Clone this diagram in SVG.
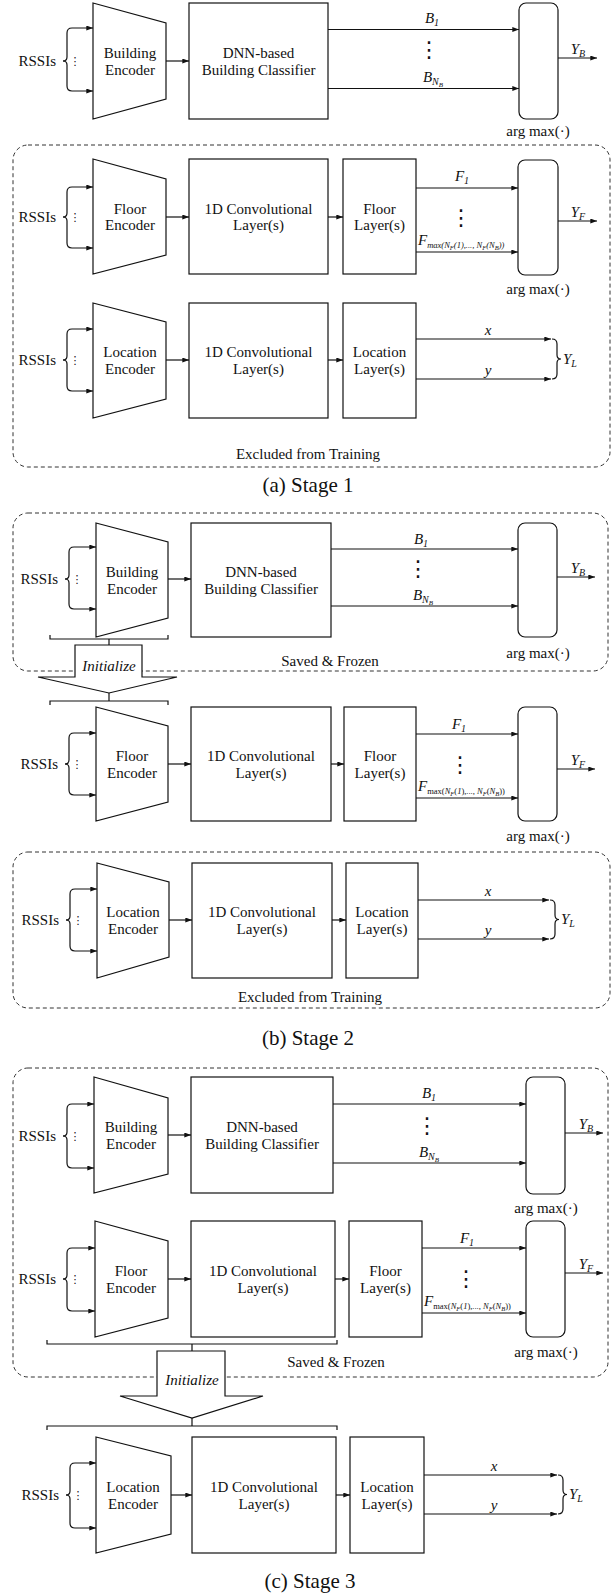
<svg xmlns="http://www.w3.org/2000/svg" width="616" height="1595" viewBox="0 0 616 1595">
<style>
.box{fill:#fff;stroke:#111;stroke-width:1.2}
.ln{fill:none;stroke:#111;stroke-width:1.2}
.dash{fill:none;stroke:#333;stroke-width:1;stroke-dasharray:4 3}
.blk{fill:#fff;stroke:#111;stroke-width:1.2}
text{font-family:"Liberation Serif","Times New Roman",serif;font-size:15px;fill:#111;text-anchor:middle}
.it{font-style:italic}
.st{text-anchor:start}
.en{text-anchor:end}
.cap{font-size:21px}
.vd{font-family:"DejaVu Sans",sans-serif;font-size:22px}
.sd{font-family:"DejaVu Sans",sans-serif;font-size:11px}
.lab{font-style:italic;font-size:15px}
</style>
<defs>
<marker id="ah" viewBox="0 0 8 6" refX="8" refY="3" markerWidth="7" markerHeight="5" orient="auto" markerUnits="userSpaceOnUse"><path d="M0,0 L8,3 L0,6 z" fill="#111"/></marker>
</defs>

<!-- ===== Stage 1 ===== -->
<g id="s1-frame"><rect class="dash" x="13" y="145" width="597" height="322" rx="15"/><text x="308" y="459">Excluded from Training</text></g>

<g id="s1-rssi-b"><text class="en" x="56" y="66">RSSIs</text><text class="sd" x="75" y="65">⋮</text></g>
<g id="s1-enc-b"><path class="box" d="M93,3 L166,23 L166,99 L93,119 Z"/><text x="130" y="58">Building</text><text x="130" y="74.5">Encoder</text></g>
<g id="s1-dnn"><rect class="box" x="189" y="3" width="139" height="116"/><text x="258.5" y="58">DNN-based</text><text x="258.5" y="74.5">Building Classifier</text></g>
<g id="s1-argb"><rect class="box" x="519" y="3" width="39" height="116" rx="7"/><text x="538" y="136">arg max(·)</text></g>

<g id="s1-rssi-f"><text class="en" x="56" y="222">RSSIs</text><text class="sd" x="75" y="221">⋮</text></g>
<g id="s1-enc-f"><path class="box" d="M93,159 L166,179 L166,255 L93,274 Z"/><text x="130" y="213.5">Floor</text><text x="130" y="230">Encoder</text></g>
<g id="s1-conv-f"><rect class="box" x="189" y="159" width="139" height="115"/><text x="258.5" y="213.5">1D Convolutional</text><text x="258.5" y="230">Layer(s)</text></g>
<g id="s1-floor"><rect class="box" x="343" y="159" width="73" height="115"/><text x="379.5" y="213.5">Floor</text><text x="379.5" y="230">Layer(s)</text></g>
<g id="s1-argf"><rect class="box" x="518" y="160" width="40" height="115" rx="7"/><text x="538" y="294">arg max(·)</text></g>

<g id="s1-rssi-l"><text class="en" x="56" y="365">RSSIs</text><text class="sd" x="75" y="364">⋮</text></g>
<g id="s1-enc-l"><path class="box" d="M93,303 L166,322 L166,399 L93,418 Z"/><text x="130" y="357">Location</text><text x="130" y="373.5">Encoder</text></g>
<g id="s1-conv-l"><rect class="box" x="189" y="303" width="139" height="115"/><text x="258.5" y="357">1D Convolutional</text><text x="258.5" y="373.5">Layer(s)</text></g>
<g id="s1-loc"><rect class="box" x="343" y="303" width="73" height="115"/><text x="379.5" y="357">Location</text><text x="379.5" y="373.5">Layer(s)</text></g>

<g id="s1-connectors">
<path class="ln" d="M63,61 Q67,61 67,57 V33 Q67,28 72,28 H93" marker-end="url(#ah)"/>
<path class="ln" d="M63,61 Q67,61 67,65 V86 Q67,91 72,91 H93" marker-end="url(#ah)"/>
<line class="ln" x1="166" y1="61" x2="189" y2="61" marker-end="url(#ah)"/>
<line class="ln" x1="328" y1="29.5" x2="519" y2="29.5" marker-end="url(#ah)"/>
<line class="ln" x1="328" y1="88.5" x2="519" y2="88.5" marker-end="url(#ah)"/>
<line class="ln" x1="558" y1="58" x2="597" y2="58" marker-end="url(#ah)"/>
<text class="lab" x="432" y="23">B<tspan font-size="10" dy="3">1</tspan></text>
<text class="vd" x="429" y="57">⋮</text>
<text class="lab" x="433" y="82">B<tspan font-size="10" dy="3">N</tspan><tspan font-size="7" dy="2">B</tspan></text>
<text class="lab" x="578" y="54">Y<tspan font-size="10" dy="3">B</tspan></text>

<path class="ln" d="M63,217 Q67,217 67,213 V192 Q67,187 72,187 H93" marker-end="url(#ah)"/>
<path class="ln" d="M63,217 Q67,217 67,221 V243 Q67,248 72,248 H93" marker-end="url(#ah)"/>
<line class="ln" x1="166" y1="217" x2="189" y2="217" marker-end="url(#ah)"/>
<line class="ln" x1="328" y1="217" x2="343" y2="217" marker-end="url(#ah)"/>
<line class="ln" x1="416" y1="188" x2="518" y2="188" marker-end="url(#ah)"/>
<line class="ln" x1="416" y1="252" x2="518" y2="252" marker-end="url(#ah)"/>
<line class="ln" x1="558" y1="221" x2="597" y2="221" marker-end="url(#ah)"/>
<text class="lab" x="462" y="181">F<tspan font-size="10" dy="3">1</tspan></text>
<text class="vd" x="461" y="225">⋮</text>
<text class="lab st" x="418" y="245">F<tspan font-size="8.5" dy="3">max(N</tspan><tspan font-size="6.5" dy="1.5">F</tspan><tspan font-size="8.5" dy="-1.5">(1),..., N</tspan><tspan font-size="6.5" dy="1.5">F</tspan><tspan font-size="8.5" dy="-1.5">(N</tspan><tspan font-size="6.5" dy="1.5">B</tspan><tspan font-size="8.5" dy="-1.5">))</tspan></text>
<text class="lab" x="578" y="217">Y<tspan font-size="10" dy="3">F</tspan></text>

<path class="ln" d="M63,360 Q67,360 67,356 V334 Q67,329 72,329 H93" marker-end="url(#ah)"/>
<path class="ln" d="M63,360 Q67,360 67,364 V386 Q67,391 72,391 H93" marker-end="url(#ah)"/>
<line class="ln" x1="166" y1="360" x2="189" y2="360" marker-end="url(#ah)"/>
<line class="ln" x1="328" y1="360" x2="343" y2="360" marker-end="url(#ah)"/>
<line class="ln" x1="416" y1="339" x2="551" y2="339" marker-end="url(#ah)"/>
<line class="ln" x1="416" y1="379" x2="551" y2="379" marker-end="url(#ah)"/>
<path class="ln" d="M552,339 Q557,339 557,344 V355 Q557,359 561,359 Q557,359 557,363 V374 Q557,379 552,379"/>
<text class="lab" x="488" y="335">x</text>
<text class="lab" x="488" y="375">y</text>
<text class="lab st" x="563" y="364">Y<tspan font-size="10" dy="3">L</tspan></text>
</g>
<text class="cap" x="308" y="492">(a) Stage 1</text>

<!-- ===== Stage 2 ===== -->
<g id="s2-frame-top"><rect class="dash" x="13" y="513" width="595" height="158" rx="15"/><text x="330" y="666">Saved &amp; Frozen</text></g>
<g id="s2-frame-loc"><rect class="dash" x="13" y="852" width="597" height="156" rx="15"/><text x="310" y="1002">Excluded from Training</text></g>

<g id="s2-rssi-b"><text class="en" x="58" y="584">RSSIs</text><text class="sd" x="77" y="583">⋮</text></g>
<g id="s2-enc-b"><path class="box" d="M96,523 L168,542 L168,618 L96,637 Z"/><text x="132" y="577">Building</text><text x="132" y="593.5">Encoder</text></g>
<g id="s2-dnn"><rect class="box" x="191" y="523" width="140" height="114"/><text x="261" y="577">DNN-based</text><text x="261" y="593.5">Building Classifier</text></g>
<g id="s2-argb"><rect class="box" x="518" y="523" width="39" height="114" rx="7"/><text x="538" y="658">arg max(·)</text></g>

<g id="s2-init">
<path class="ln" d="M50,635 V639 H168 V635 M109,639 V645"/>
<path class="blk" d="M75,645 H142 V677 H177 L109,693 L38,677 H75 Z"/>
<text class="it" x="109" y="671">Initialize</text>
<path class="ln" d="M109,693 V701 M50,705 V701 H168 V705"/>
</g>

<g id="s2-rssi-f"><text class="en" x="58" y="769">RSSIs</text><text class="sd" x="77" y="768">⋮</text></g>
<g id="s2-enc-f"><path class="box" d="M96,707 L168,726 L168,802 L96,821 Z"/><text x="132" y="761">Floor</text><text x="132" y="777.5">Encoder</text></g>
<g id="s2-conv-f"><rect class="box" x="191" y="707" width="140" height="114"/><text x="261" y="761">1D Convolutional</text><text x="261" y="777.5">Layer(s)</text></g>
<g id="s2-floor"><rect class="box" x="344" y="707" width="72" height="114"/><text x="380" y="761">Floor</text><text x="380" y="777.5">Layer(s)</text></g>
<g id="s2-argf"><rect class="box" x="518" y="707" width="39" height="114" rx="7"/><text x="538" y="841">arg max(·)</text></g>

<g id="s2-rssi-l"><text class="en" x="59" y="925">RSSIs</text><text class="sd" x="78" y="924">⋮</text></g>
<g id="s2-enc-l"><path class="box" d="M97,863 L169,882 L169,957 L97,978 Z"/><text x="133" y="917">Location</text><text x="133" y="933.5">Encoder</text></g>
<g id="s2-conv-l"><rect class="box" x="192" y="863" width="140" height="115"/><text x="262" y="917">1D Convolutional</text><text x="262" y="933.5">Layer(s)</text></g>
<g id="s2-loc"><rect class="box" x="346" y="863" width="72" height="115"/><text x="382" y="917">Location</text><text x="382" y="933.5">Layer(s)</text></g>

<g id="s2-connectors">
<path class="ln" d="M65,579 Q69,579 69,575 V552 Q69,547 74,547 H96" marker-end="url(#ah)"/>
<path class="ln" d="M65,579 Q69,579 69,583 V604 Q69,609 74,609 H96" marker-end="url(#ah)"/>
<line class="ln" x1="168" y1="579" x2="191" y2="579" marker-end="url(#ah)"/>
<line class="ln" x1="331" y1="549" x2="518" y2="549" marker-end="url(#ah)"/>
<line class="ln" x1="331" y1="606" x2="518" y2="606" marker-end="url(#ah)"/>
<line class="ln" x1="557" y1="577" x2="595" y2="577" marker-end="url(#ah)"/>
<text class="lab" x="421" y="544">B<tspan font-size="10" dy="3">1</tspan></text>
<text class="vd" x="418" y="576">⋮</text>
<text class="lab" x="423" y="600">B<tspan font-size="10" dy="3">N</tspan><tspan font-size="7" dy="2">B</tspan></text>
<text class="lab" x="578" y="573">Y<tspan font-size="10" dy="3">B</tspan></text>

<path class="ln" d="M65,764 Q69,764 69,760 V738 Q69,733 74,733 H96" marker-end="url(#ah)"/>
<path class="ln" d="M65,764 Q69,764 69,768 V790 Q69,795 74,795 H96" marker-end="url(#ah)"/>
<line class="ln" x1="168" y1="764" x2="191" y2="764" marker-end="url(#ah)"/>
<line class="ln" x1="331" y1="764" x2="344" y2="764" marker-end="url(#ah)"/>
<line class="ln" x1="416" y1="734" x2="518" y2="734" marker-end="url(#ah)"/>
<line class="ln" x1="416" y1="798" x2="518" y2="798" marker-end="url(#ah)"/>
<line class="ln" x1="557" y1="769" x2="595" y2="769" marker-end="url(#ah)"/>
<text class="lab" x="459" y="729">F<tspan font-size="10" dy="3">1</tspan></text>
<text class="vd" x="460" y="772">⋮</text>
<text class="lab st" x="418" y="791">F<tspan font-style="normal" font-size="8.5" dy="3">max(</tspan><tspan font-size="8.5">N</tspan><tspan font-size="6.5" dy="1.5">F</tspan><tspan font-size="8.5" dy="-1.5" font-style="normal">(</tspan><tspan font-size="8.5">1</tspan><tspan font-size="8.5" font-style="normal">),..., </tspan><tspan font-size="8.5">N</tspan><tspan font-size="6.5" dy="1.5">F</tspan><tspan font-size="8.5" dy="-1.5" font-style="normal">(</tspan><tspan font-size="8.5">N</tspan><tspan font-size="6.5" dy="1.5">B</tspan><tspan font-size="8.5" dy="-1.5" font-style="normal">))</tspan></text>
<text class="lab" x="578" y="765">Y<tspan font-size="10" dy="3">F</tspan></text>

<path class="ln" d="M66,920 Q70,920 70,916 V894 Q70,889 75,889 H97" marker-end="url(#ah)"/>
<path class="ln" d="M66,920 Q70,920 70,924 V946 Q70,951 75,951 H97" marker-end="url(#ah)"/>
<line class="ln" x1="169" y1="920" x2="192" y2="920" marker-end="url(#ah)"/>
<line class="ln" x1="332" y1="920" x2="346" y2="920" marker-end="url(#ah)"/>
<line class="ln" x1="418" y1="900" x2="549" y2="900" marker-end="url(#ah)"/>
<line class="ln" x1="418" y1="939" x2="549" y2="939" marker-end="url(#ah)"/>
<path class="ln" d="M550,900 Q555,900 555,905 V915 Q555,919.5 559,919.5 Q555,919.5 555,924 V934 Q555,939 550,939"/>
<text class="lab" x="488" y="896">x</text>
<text class="lab" x="488" y="935">y</text>
<text class="lab st" x="561" y="924">Y<tspan font-size="10" dy="3">L</tspan></text>
</g>
<text class="cap" x="308" y="1045">(b) Stage 2</text>

<!-- ===== Stage 3 ===== -->
<g id="s3-frame"><rect class="dash" x="13" y="1068" width="595" height="309" rx="15"/><text x="336" y="1367">Saved &amp; Frozen</text></g>

<g id="s3-rssi-b"><text class="en" x="56" y="1141">RSSIs</text><text class="sd" x="75" y="1140">⋮</text></g>
<g id="s3-enc-b"><path class="box" d="M94,1077 L168,1098 L168,1174 L94,1193 Z"/><text x="131" y="1132">Building</text><text x="131" y="1148.5">Encoder</text></g>
<g id="s3-dnn"><rect class="box" x="191" y="1077" width="142" height="116"/><text x="262" y="1132">DNN-based</text><text x="262" y="1148.5">Building Classifier</text></g>
<g id="s3-argb"><rect class="box" x="526" y="1077" width="39" height="117" rx="7"/><text x="546" y="1213">arg max(·)</text></g>

<g id="s3-rssi-f"><text class="en" x="56" y="1284">RSSIs</text><text class="sd" x="75" y="1283">⋮</text></g>
<g id="s3-enc-f"><path class="box" d="M95,1221 L168,1241 L168,1318 L95,1337 Z"/><text x="131" y="1276">Floor</text><text x="131" y="1292.5">Encoder</text></g>
<g id="s3-conv-f"><rect class="box" x="191" y="1221" width="144" height="116"/><text x="263" y="1276">1D Convolutional</text><text x="263" y="1292.5">Layer(s)</text></g>
<g id="s3-floor"><rect class="box" x="349" y="1221" width="73" height="116"/><text x="385.5" y="1276">Floor</text><text x="385.5" y="1292.5">Layer(s)</text></g>
<g id="s3-argf"><rect class="box" x="526" y="1221" width="39" height="116" rx="7"/><text x="546" y="1357">arg max(·)</text></g>

<g id="s3-init">
<path class="ln" d="M47,1340 V1344 H337 V1340 M192,1344 V1351"/>
<path class="blk" d="M157,1351 H225 V1396 H263 L192,1418 L120,1396 H157 Z"/>
<text class="it" x="192" y="1385">Initialize</text>
<path class="ln" d="M192,1418 V1426 M47,1430 V1426 H337 V1430"/>
</g>

<g id="s3-rssi-l"><text class="en" x="59" y="1500">RSSIs</text><text class="sd" x="78" y="1499">⋮</text></g>
<g id="s3-enc-l"><path class="box" d="M96,1437 L171,1456 L171,1534 L96,1553 Z"/><text x="133" y="1492">Location</text><text x="133" y="1508.5">Encoder</text></g>
<g id="s3-conv-l"><rect class="box" x="192" y="1437" width="144" height="116"/><text x="264" y="1492">1D Convolutional</text><text x="264" y="1508.5">Layer(s)</text></g>
<g id="s3-loc"><rect class="box" x="350" y="1437" width="74" height="116"/><text x="387" y="1492">Location</text><text x="387" y="1508.5">Layer(s)</text></g>

<g id="s3-connectors">
<path class="ln" d="M63,1136 Q67,1136 67,1132 V1109 Q67,1104 72,1104 H94" marker-end="url(#ah)"/>
<path class="ln" d="M63,1136 Q67,1136 67,1140 V1163 Q67,1168 72,1168 H94" marker-end="url(#ah)"/>
<line class="ln" x1="168" y1="1135" x2="191" y2="1135" marker-end="url(#ah)"/>
<line class="ln" x1="333" y1="1104" x2="526" y2="1104" marker-end="url(#ah)"/>
<line class="ln" x1="333" y1="1163" x2="526" y2="1163" marker-end="url(#ah)"/>
<line class="ln" x1="565" y1="1133" x2="603" y2="1133" marker-end="url(#ah)"/>
<text class="lab" x="429" y="1098">B<tspan font-size="10" dy="3">1</tspan></text>
<text class="vd" x="427" y="1133">⋮</text>
<text class="lab" x="429" y="1157">B<tspan font-size="10" dy="3">N</tspan><tspan font-size="7" dy="2">B</tspan></text>
<text class="lab" x="586" y="1129">Y<tspan font-size="10" dy="3">B</tspan></text>

<path class="ln" d="M63,1279 Q67,1279 67,1275 V1253 Q67,1248 72,1248 H95" marker-end="url(#ah)"/>
<path class="ln" d="M63,1279 Q67,1279 67,1283 V1306 Q67,1311 72,1311 H95" marker-end="url(#ah)"/>
<line class="ln" x1="168" y1="1279" x2="191" y2="1279" marker-end="url(#ah)"/>
<line class="ln" x1="335" y1="1279" x2="349" y2="1279" marker-end="url(#ah)"/>
<line class="ln" x1="422" y1="1248" x2="526" y2="1248" marker-end="url(#ah)"/>
<line class="ln" x1="422" y1="1313" x2="526" y2="1313" marker-end="url(#ah)"/>
<line class="ln" x1="565" y1="1273" x2="603" y2="1273" marker-end="url(#ah)"/>
<text class="lab" x="467" y="1243">F<tspan font-size="10" dy="3">1</tspan></text>
<text class="vd" x="466" y="1286">⋮</text>
<text class="lab st" x="424" y="1306">F<tspan font-style="normal" font-size="8.5" dy="3">max(</tspan><tspan font-size="8.5">N</tspan><tspan font-size="6.5" dy="1.5">F</tspan><tspan font-size="8.5" dy="-1.5" font-style="normal">(</tspan><tspan font-size="8.5">1</tspan><tspan font-size="8.5" font-style="normal">),..., </tspan><tspan font-size="8.5">N</tspan><tspan font-size="6.5" dy="1.5">F</tspan><tspan font-size="8.5" dy="-1.5" font-style="normal">(</tspan><tspan font-size="8.5">N</tspan><tspan font-size="6.5" dy="1.5">B</tspan><tspan font-size="8.5" dy="-1.5" font-style="normal">))</tspan></text>
<text class="lab" x="586" y="1269">Y<tspan font-size="10" dy="3">F</tspan></text>

<path class="ln" d="M66,1495 Q70,1495 70,1491 V1468 Q70,1463 75,1463 H96" marker-end="url(#ah)"/>
<path class="ln" d="M66,1495 Q70,1495 70,1499 V1523 Q70,1528 75,1528 H96" marker-end="url(#ah)"/>
<line class="ln" x1="171" y1="1495" x2="192" y2="1495" marker-end="url(#ah)"/>
<line class="ln" x1="336" y1="1495" x2="350" y2="1495" marker-end="url(#ah)"/>
<line class="ln" x1="424" y1="1475" x2="557" y2="1475" marker-end="url(#ah)"/>
<line class="ln" x1="424" y1="1514" x2="557" y2="1514" marker-end="url(#ah)"/>
<path class="ln" d="M558,1475 Q563,1475 563,1480 V1490 Q563,1494.5 567,1494.5 Q563,1494.5 563,1499 V1509 Q563,1514 558,1514"/>
<text class="lab" x="494" y="1471">x</text>
<text class="lab" x="494" y="1510">y</text>
<text class="lab st" x="569" y="1499">Y<tspan font-size="10" dy="3">L</tspan></text>
</g>
<text class="cap" x="310" y="1588">(c) Stage 3</text>
</svg>
